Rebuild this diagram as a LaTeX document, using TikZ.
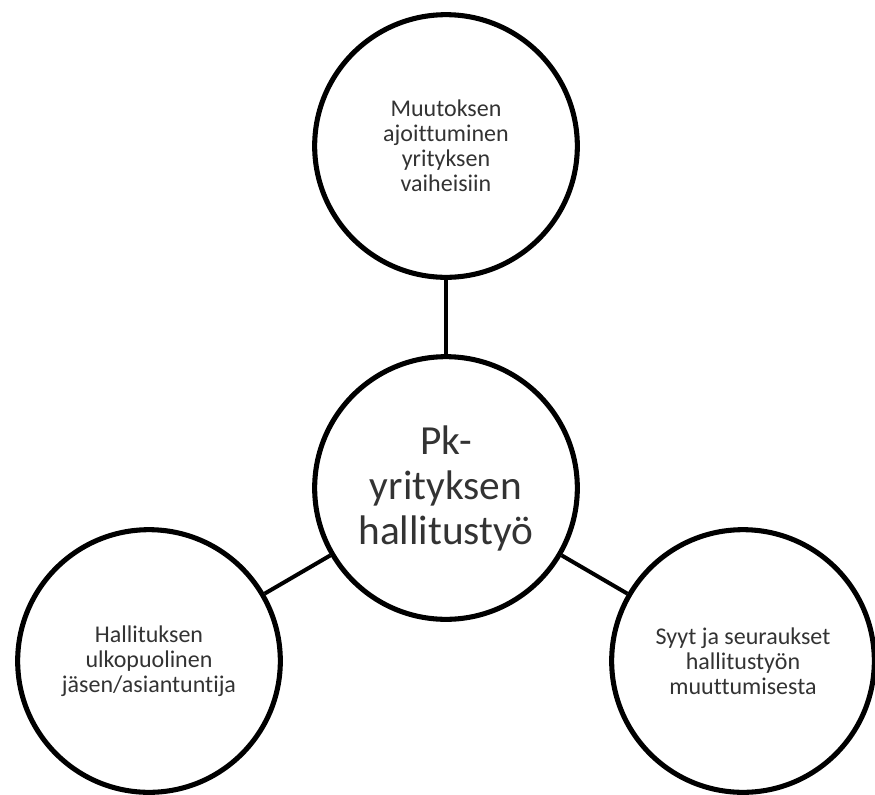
\documentclass[tikz,border=0pt]{standalone}
\usepackage{fontspec}
\setmainfont{Carlito}[Ligatures={NoCommon}]
\tikzset{
	aihe/.style={circle, draw=black, line width=3.8pt, fill=white, minimum size=197pt, inner sep=0pt, align=center, text=black!80, font=\fontsize{18}{18.75}\selectfont},
	keski/.style={aihe, font=\fontsize{31}{33.75}\selectfont},
	yhteys/.style={line width=3pt}
}
\begin{document}
\begin{tikzpicture}[x=0.75pt, y=-0.75pt]
			\useasboundingbox (0,0) rectangle (875,794);
			\def \cx{446}
			\def \cy{488}

			\node[keski] (pk) at (\cx, \cy) {Pk-\\yrityksen\\hallitustyö};
			\node[aihe] (muutos) at (\cx, 146) {Muutoksen\\ajoittuminen\\yrityksen\\vaiheisiin};
			\node[aihe] (ulko) at (149, 661) {Hallituksen\\ulkopuolinen\\jäsen/asiantuntija};
			\node[aihe] (syyt) at (743, 661) {Syyt ja seuraukset\\hallitustyön\\muuttumisesta};

			\draw[yhteys] (pk) -- (muutos);
			\draw[yhteys] (pk) -- (ulko);
			\draw[yhteys] (pk) -- (syyt);
		\end{tikzpicture}
\end{document}
